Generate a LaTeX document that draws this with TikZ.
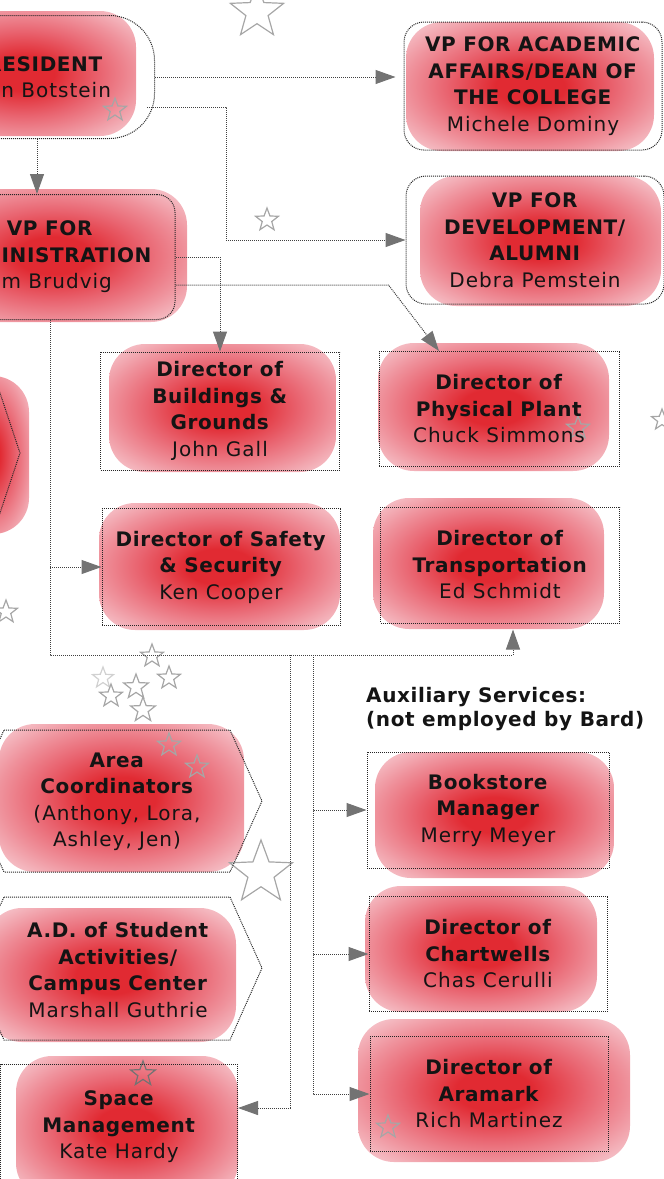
\documentclass[tikz,border=0pt]{standalone}
\usepackage{fontspec}
\setmainfont{DejaVu Sans}[LetterSpace=5, BoldFeatures={LetterSpace=3}]
\usetikzlibrary{arrows.meta, shapes.geometric}
\definecolor{bcore}{RGB}{225,42,50}
\definecolor{bmid}{RGB}{233,100,112}
\definecolor{bpink}{RGB}{239,146,156}
\definecolor{bedge}{RGB}{245,190,197}
\pgfdeclareradialshading{blobsh}{\pgfpoint{0bp}{0bp}}{color(0bp)=(bcore); color(7bp)=(bcore); color(17bp)=(bmid); color(25bp)=(bpink); color(32bp)=(bedge); color(34bp)=(bedge); color(37bp)=(white); color(100bp)=(white)}
\newcommand{\hd}[1]{\textbf{#1}}
\tikzset{
  box/.style={draw=black!85, densely dotted, line width=1pt, align=center,
    font=\fontsize{20}{26.5}\selectfont, inner sep=0pt, text=black!92},
  txt/.style={align=center, font=\fontsize{20}{26.5}\selectfont, inner sep=0pt, text=black!92},
  hexb/.style={draw=black!85, densely dotted, line width=1pt},
  conn/.style={draw=black!75, densely dotted, line width=1pt,
    -{Triangle[length=20pt,width=14pt,fill=black!55,color=black!55]}},
  blob/.style={shade, shading=blobsh, rounded corners=36pt},
  starry/.style={star, star points=5, star point ratio=2.4, draw=black!35,
    line width=1.2pt, minimum size=#1, inner sep=0pt}
}
\begin{document}
\begin{tikzpicture}[x=1pt, y=-1pt]
\useasboundingbox (0,0) rectangle (664,1179);
% red blobs
\path[blob] (-90,11) rectangle (136,136);
\path[blob] (406,22) rectangle (654,151);
\path[blob] (420,176) rectangle (661,306);
\path[blob] (-80,189) rectangle (187,322);
\path[blob] (109,344) rectangle (336,472);
\path[blob] (378,343) rectangle (609,471);
\path[blob] (99,503) rectangle (340,630);
\path[blob] (373,498) rectangle (604,629);
\path[blob] (-52,376) rectangle (29,534);
\path[blob] (-1,724) rectangle (244,872);
\path[blob] (-14,908) rectangle (236,1042);
\path[blob] (16,1056) rectangle (238,1199);
\path[blob] (375,752) rectangle (614,878);
\path[blob] (365,886) rectangle (597,1012);
\path[blob] (358,1019) rectangle (630,1162);

% stars
\node[starry=56pt] (s1) at (257,12) {};
\node[starry=24pt] (s2) at (115,110) {};
\node[starry=24pt] (s3) at (267,220) {};
\node[starry=24pt] (s4) at (578,428) {};
\node[starry=22pt] (s5) at (662,420) {};
\node[starry=24pt] (s6) at (6,612) {};
\node[starry=24pt] (s7) at (152,656) {};
\node[starry=24pt] (s8) at (169,678) {};
\node[starry=22pt, draw=black!18] (s9) at (103,678) {};
\node[starry=26pt] (s10) at (136,687) {};
\node[starry=24pt] (s11) at (111,696) {};
\node[starry=26pt] (s12) at (143,710) {};
\node[starry=24pt] (s13) at (169,745) {};
\node[starry=24pt] (s14) at (197,767) {};
\node[starry=66pt] (s15) at (261,873) {};
\node[starry=26pt, draw=black!55] (s16) at (143,1074) {};
\node[starry=24pt] (s17) at (388,1127) {};

% boxes
\node[box, rounded corners=45pt, minimum width=235pt, minimum height=123pt] (pres) at (37,77) {\hd{PRESIDENT}\\Leon Botstein};
\node[box, rounded corners=18pt, minimum width=250pt, minimum height=125pt] (admin) at (50,257) {\hd{VP FOR}\\\hd{ADMINISTRATION}\\Jim Brudvig};
\node[box, rounded corners=20pt, minimum width=258pt, minimum height=128pt] (acad) at (533,86) {\hd{VP FOR ACADEMIC}\\\hd{AFFAIRS/DEAN OF}\\\hd{THE COLLEGE}\\Michele Dominy};
\node[box, rounded corners=20pt, minimum width=258pt, minimum height=128pt] (dev) at (535,240) {\hd{VP FOR}\\\hd{DEVELOPMENT/}\\\hd{ALUMNI}\\Debra Pemstein};
\node[box, minimum width=239pt, minimum height=118pt] (build) at (220,411) {\hd{Director of}\\\hd{Buildings \&}\\\hd{Grounds}\\John Gall};
\node[box, minimum width=240pt, minimum height=115pt] (phys) at (499,409) {\hd{Director of}\\\hd{Physical Plant}\\Chuck Simmons};
\node[box, minimum width=238pt, minimum height=117pt] (safe) at (221,567) {\hd{Director of Safety}\\\hd{\& Security}\\Ken Cooper};
\node[box, minimum width=239pt, minimum height=116pt] (trans) at (500,565) {\hd{Director of}\\\hd{Transportation}\\Ed Schmidt};
\node[box, minimum width=242pt, minimum height=116pt] (book) at (488,810) {\hd{Bookstore}\\\hd{Manager}\\Merry Meyer};
\node[box, minimum width=238pt, minimum height=115pt] (chart) at (488,954) {\hd{Director of}\\\hd{Chartwells}\\Chas Cerulli};
\node[box, minimum width=238pt, minimum height=115pt] (aram) at (489,1094) {\hd{Director of}\\\hd{Aramark}\\Rich Martinez};
\node[box, minimum width=237pt, minimum height=125pt] (space) at (119,1127) {\hd{Space}\\\hd{Management}\\Kate Hardy};

% hexagons
\draw[hexb] (-8,369) -- (20,453) -- (-8,537);
\draw[hexb] (4,730) -- (230,730) -- (262,801) -- (230,872) -- (4,872) -- (-28,801) -- cycle;
\draw[hexb] (4,897) -- (230,897) -- (262,968) -- (230,1040) -- (4,1040) -- (-28,968) -- cycle;
\node[txt] (area) at (117,802) {\hd{Area}\\\hd{Coordinators}\\(Anthony, Lora,\\Ashley, Jen)};
\node[txt] (ad) at (118,970) {\hd{A.D. of Student}\\\hd{Activities/}\\\hd{Campus Center}\\Marshall Guthrie};

\node[anchor=west, align=left, inner sep=0pt, text=black!92, font=\fontsize{20}{24}\selectfont\bfseries] (aux) at (366,709) {Auxiliary Services:\\(not employed by Bard)};

% connectors
\draw[conn, shorten >=8pt] (pres.east) -- (pres.east -| acad.west);
\coordinate (p2) at (147,107);
\draw[conn] (p2) -- ++(79,0) |- (dev.west);
\draw[conn] (pres.south) -- (pres.south |- admin.north);
\draw[conn] (admin.east) -| (build.north);
\draw[conn] ([yshift=-28pt]admin.east) -- ++(213,0) -- ([xshift=-60pt]phys.north);
\coordinate (bus) at (0,655);
\coordinate (tin) at ([xshift=13pt]trans.south);
\draw[conn, shorten >=6pt] (admin.south) -- (admin.south |- bus) -- (tin |- bus) -- (tin);
\draw[conn] (admin.south |- safe.west) -- (safe.west);
\coordinate (c1) at (290,655);
\coordinate (c2) at (313,655);
\draw[conn] (c1) |- ([yshift=19pt]space.east);
\draw[conn] (c2) |- (book.west);
\draw[conn] (c2) |- (chart.west);
\draw[conn] (c2) |- (aram.west);
\end{tikzpicture}
\end{document}
